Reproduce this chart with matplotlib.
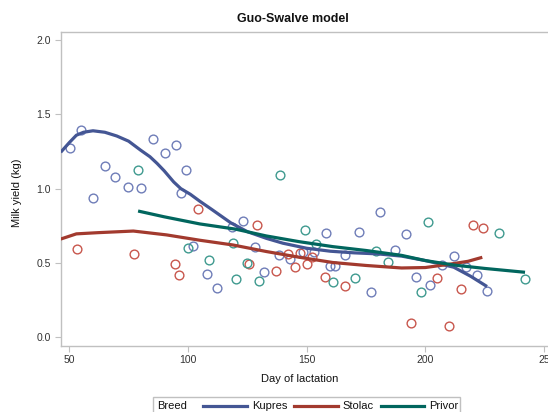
import matplotlib
matplotlib.use("Agg")
import matplotlib.pyplot as plt
from matplotlib.lines import Line2D
from matplotlib.patches import Rectangle

plt.rcParams["font.family"] = ["Liberation Sans", "DejaVu Sans"]

# ── Data ────────────────────────────────────────────────────
kupres_day = [50.3, 54.9, 60.1, 65.2, 69.3, 74.9, 80.1, 85.1, 90.2, 94.9, 99.0, 97.2,
              102.0, 108.1, 112.3, 118.4, 123.0, 128.3, 131.9, 138.2, 143.1, 148.3,
              153.1, 158.1, 160.0, 162.0, 166.0, 171.9, 177.1, 180.9, 187.1, 192.0,
              196.0, 202.0, 207.0, 211.9, 217.1, 221.9, 225.8]
kupres_yield = [1.275, 1.395, 0.94, 1.152, 1.08, 1.01, 1.004, 1.336, 1.242, 1.296, 1.123, 0.97,
                0.615, 0.422, 0.332, 0.742, 0.782, 0.608, 0.436, 0.553, 0.526, 0.575,
                0.575, 0.699, 0.478, 0.478, 0.55, 0.71, 0.301, 0.844, 0.586, 0.692,
                0.406, 0.348, 0.487, 0.544, 0.474, 0.42, 0.308]

stolac_day = [53.2, 77.2, 94.4, 96.1, 104.3, 125.8, 129.1, 137.2, 142.0, 144.9, 147.2,
              150.0, 152.1, 157.8, 166.1, 194.1, 204.9, 210.0, 214.9, 220.1, 224.1]
stolac_yield = [0.593, 0.56, 0.492, 0.42, 0.865, 0.49, 0.753, 0.445, 0.561, 0.47, 0.568,
                0.492, 0.537, 0.404, 0.344, 0.092, 0.398, 0.076, 0.325, 0.753, 0.732]

privor_day = [78.8, 99.9, 109.0, 119.1, 120.2, 124.7, 130.0, 138.9, 149.2, 154.0,
              161.1, 170.4, 179.1, 184.3, 198.2, 201.1, 231.1, 241.8]
privor_yield = [1.123, 0.598, 0.519, 0.631, 0.389, 0.497, 0.379, 1.094, 0.723, 0.627,
                0.373, 0.398, 0.582, 0.508, 0.301, 0.773, 0.699, 0.391]

# fitted model curves
kupres_fit_day = [46.4, 50, 53, 56, 60, 65, 70, 75, 80, 84, 87, 90, 94, 97, 101, 105, 110,
                  118, 125, 133, 140, 150, 160, 170, 180, 190, 200, 205, 212, 219, 226]
kupres_fit = [1.245, 1.31, 1.36, 1.38, 1.39, 1.38, 1.355, 1.32, 1.26, 1.215, 1.17, 1.12,
              1.045, 1.0, 0.962, 0.915, 0.86, 0.77, 0.71, 0.665, 0.632, 0.598, 0.578, 0.567,
              0.56, 0.545, 0.515, 0.497, 0.47, 0.41, 0.34]
stolac_fit_day = [46.4, 53, 62, 77, 91, 105, 119, 133, 147, 161, 175, 190, 200, 210, 218, 224]
stolac_fit = [0.66, 0.695, 0.703, 0.714, 0.688, 0.652, 0.62, 0.576, 0.537, 0.502, 0.482,
              0.465, 0.468, 0.49, 0.51, 0.537]
privor_fit_day = [79, 90, 105, 120, 133, 147, 161, 175, 190, 200, 212, 225, 242]
privor_fit = [0.849, 0.81, 0.762, 0.727, 0.681, 0.642, 0.609, 0.583, 0.55, 0.515, 0.485,
              0.462, 0.436]

breeds = ["Kupres", "Stolac", "Privor"]
LINE_COLORS = ["#445694", "#A23A2E", "#01665E"]
MARK_COLORS = ["#6F7DB8", "#C8574D", "#3F9A8F"]
AXIS_GRAY = "#C0C0C0"
TEXT = "#333333"

# ── Plot ────────────────────────────────────────────────────
fig = plt.figure(figsize=(5.48, 4.12), dpi=100)
ax = fig.add_axes([60.7 / 548, 66.3 / 412, (549 - 60.7) / 548, (380.3 - 66.3) / 412])

points = [(kupres_day, kupres_yield), (stolac_day, stolac_yield), (privor_day, privor_yield)]
fits = [(kupres_fit_day, kupres_fit), (stolac_fit_day, stolac_fit), (privor_fit_day, privor_fit)]

for (px, py), mc in zip(points, MARK_COLORS):
    ax.plot(px, py, "o", ms=6.3, mfc="none", mec=mc, mew=1.0, zorder=2)
for (fx, fy), lc in zip(fits, LINE_COLORS):
    ax.plot(fx, fy, "-", color=lc, lw=2.3, solid_capstyle="butt", solid_joinstyle="round", zorder=3)

ax.set_xlim(46.4, 252.1)
ax.set_ylim(-0.059, 2.058)
ax.set_xticks([50, 100, 150, 200, 250])
ax.set_xticklabels(["50", "100", "150", "200", "25"])
ax.set_yticks([0.0, 0.5, 1.0, 1.5, 2.0])
ax.set_yticklabels(["0.0", "0.5", "1.0", "1.5", "2.0"])
for s in ax.spines.values():
    s.set_color(AXIS_GRAY)
    s.set_linewidth(1.0)
ax.tick_params(colors=AXIS_GRAY, labelcolor=TEXT, labelsize=7.5, length=4, width=0.8, pad=3)

fig.text(293 / 548, 1 - 19 / 412, "Guo-Swalve model", ha="center", va="center",
         fontsize=9, fontweight="bold", color="#111111")
fig.text(300 / 548, 1 - 379 / 412, "Day of lactation", ha="center", va="center",
         fontsize=8, color="#111111")
fig.text(17.5 / 548, 1 - 193 / 412, "Milk yield (kg)", ha="center", va="center",
         rotation=90, fontsize=8, color="#111111")

# legend box along the bottom
fig.patches.append(Rectangle((153.3 / 548, -0.02), (460 - 153.3) / 548, 0.02 + (412 - 397.3) / 412,
                             transform=fig.transFigure, fill=False, ec=AXIS_GRAY, lw=1.0))
ly = 1 - 405.6 / 412
fig.text(157.3 / 548, ly, "Breed", ha="left", va="center", fontsize=8, color="#111111")
seg = [(203.3, 246.7, 251.7), (294.3, 338.3, 342.7), (381, 424.3, 429)]
for (x0, x1, xt), name, lc in zip(seg, breeds, LINE_COLORS):
    fig.lines.append(Line2D([x0 / 548, x1 / 548], [ly, ly], transform=fig.transFigure,
                            color=lc, lw=2.3))
    fig.text(xt / 548, ly, name, ha="left", va="center", fontsize=8, color="#111111")

fig.savefig("out.png", dpi=100)
